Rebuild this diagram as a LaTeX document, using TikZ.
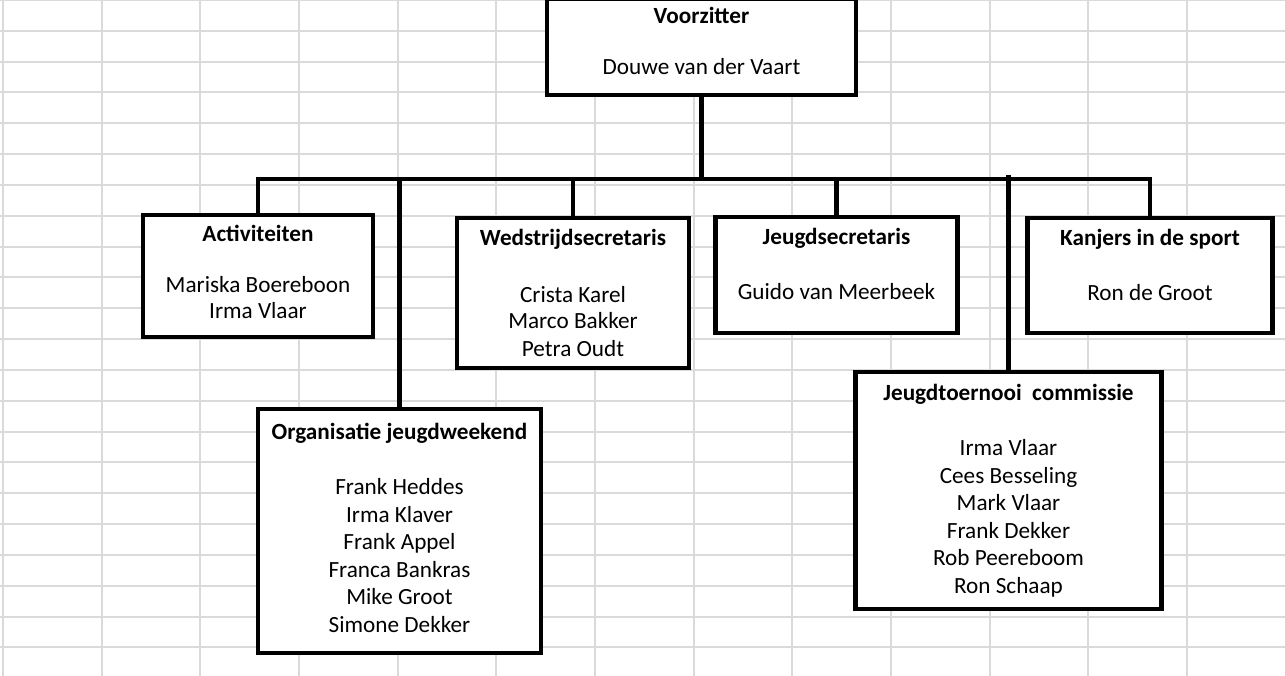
\documentclass[tikz,border=0pt]{standalone}
\usepackage{fontspec}
\setmainfont{Carlito}
\usetikzlibrary{positioning}
\definecolor{gridcolor}{RGB}{218,218,218}
\newcommand{\lift}[1]{\rule[-#1]{0pt}{0pt}}

\begin{document}
\begin{tikzpicture}[x=1pt,y=-1pt,
    orgbox/.style={draw,line width=4.3pt,fill=white,align=center,inner sep=0pt,
      font=\fontsize{23.2}{27.5}\selectfont},
    conn/.style={line width=4.3pt}]
    \useasboundingbox (0,0) rectangle (1285,676);
    % spreadsheet grid
    \foreach \i in {0,...,12}
      \draw[gridcolor,line width=2pt] ({3+98.67*\i},0) -- ({3+98.67*\i},676);
    \foreach \j in {0,...,21}
      \draw[gridcolor,line width=2pt] (0,{30.83*\j}) -- (1285,{30.83*\j});

    \coordinate (bus) at (0,179);
    \coordinate (bustop) at (0,175);

    % boxes
    \node[orgbox,minimum width=309pt,minimum height=96pt] (voorz) at (701.5,47)
      {\textbf{Voorzitter}\\[23pt]Douwe van der Vaart\lift{12pt}};
    \node[orgbox,minimum width=230pt,minimum height=122pt] (act) at (258,276)
      {\textbf{Activiteiten}\\[23pt]Mariska Boereboon\\[-1.5pt]Irma Vlaar\lift{8pt}};
    \node[orgbox,minimum width=232pt,minimum height=150pt] (wed) at (573,293)
      {\textbf{Wedstrijdsecretaris}\\[29pt]Crista Karel\\[-1pt]Marco Bakker\\Petra Oudt};
    \node[orgbox,minimum width=242pt,minimum height=116pt] (jsec) at (836.5,275)
      {\textbf{Jeugdsecretaris}\\[27.5pt]Guido van Meerbeek\lift{22pt}};
    \node[orgbox,minimum width=245pt,minimum height=115pt] (kanj) at (1150,275.5)
      {\textbf{Kanjers in de sport}\\[28pt]Ron de Groot\lift{21pt}};
    \node[orgbox,minimum width=283pt,minimum height=244pt] (org) at (399.5,531)
      {\textbf{Organisatie jeugdweekend}\\[27.5pt]Frank Heddes\\Irma Klaver\\Frank Appel\\
       Franca Bankras\\Mike Groot\\Simone Dekker\lift{6pt}};
    \node[orgbox,minimum width=306pt,minimum height=237pt] (jtc) at (1008.5,490.5)
      {\textbf{Jeugdtoernooi~~commissie}\\[27.5pt]Irma Vlaar\\Cees Besseling\\Mark Vlaar\\
       Frank Dekker\\Rob Peereboom\\Ron Schaap};

    % connectors
    \draw[conn] (voorz.south) -- (voorz.south |- bus);
    \draw[conn] (act.north) -- (act.north |- bus) -- (kanj.north |- bus) -- (kanj.north);
    \foreach \b in {wed,jsec,org}
      \draw[conn] (\b.north |- bus) -- (\b.north);
    \draw[conn] (jtc.north |- bustop) -- (jtc.north);
\end{tikzpicture}
\end{document}
